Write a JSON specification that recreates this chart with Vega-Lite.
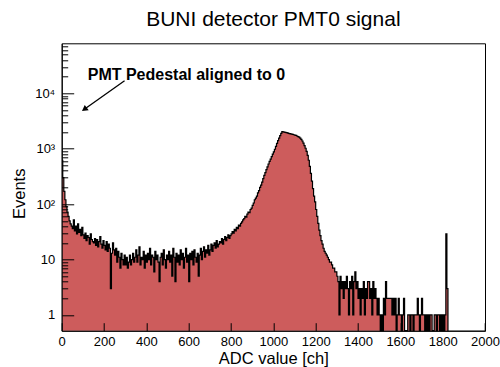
{
"$schema":"https://vega.github.io/schema/vega-lite/v6.json",
"width":423.3,"height":287.4,
"autosize":{"type":"none"},
"padding":{"left":61.7,"top":43.3,"right":15,"bottom":36.3},
"background":"white",
"config":{"font":"Liberation Sans","view":{"stroke":"black","strokeWidth":1}},
"title":{"text":"BUNI detector PMT0 signal","fontSize":21,"fontWeight":"normal","color":"black","anchor":"middle","frame":"group","baseline":"alphabetic","offset":-6,"font":"Liberation Sans"},
"datasets":{
"h":[
{"c":2.5,"n":620},{"c":7.5,"n":300},{"c":12.5,"n":170},{"c":17.5,"n":120},{"c":22.5,"n":90},{"c":27.5,"n":72},{"c":32.5,"n":60},{"c":37.5,"n":50},{"c":42.5,"n":44},{"c":47.5,"n":40},
{"c":52.5,"n":36},{"c":57.5,"n":52},{"c":62.5,"n":33},{"c":67.5,"n":40},{"c":72.5,"n":29},{"c":77.5,"n":44},{"c":82.5,"n":31},{"c":87.5,"n":35},{"c":92.5,"n":27},{"c":97.5,"n":38},
{"c":102.5,"n":28},{"c":107.5,"n":24},{"c":112.5,"n":30},{"c":117.5,"n":22},{"c":122.5,"n":27},{"c":127.5,"n":25},{"c":132.5,"n":19},{"c":137.5,"n":29},{"c":142.5,"n":23},{"c":147.5,"n":21},
{"c":152.5,"n":20},{"c":157.5,"n":24},{"c":162.5,"n":18},{"c":167.5,"n":23},{"c":172.5,"n":17},{"c":177.5,"n":21},{"c":182.5,"n":26},{"c":187.5,"n":19},{"c":192.5,"n":16},{"c":197.5,"n":22},
{"c":202.5,"n":18},{"c":207.5,"n":15},{"c":212.5,"n":21},{"c":217.5,"n":14},{"c":222.5,"n":19},{"c":227.5,"n":16},{"c":232.5,"n":3},{"c":237.5,"n":13},{"c":242.5,"n":20},{"c":247.5,"n":15},
{"c":252.5,"n":12},{"c":257.5,"n":16},{"c":262.5,"n":9},{"c":267.5,"n":14},{"c":272.5,"n":11},{"c":277.5,"n":7},{"c":282.5,"n":13},{"c":287.5,"n":10},{"c":292.5,"n":8},{"c":297.5,"n":12},
{"c":302.5,"n":8},{"c":307.5,"n":11},{"c":312.5,"n":7},{"c":317.5,"n":9},{"c":322.5,"n":12},{"c":327.5,"n":8},{"c":332.5,"n":10},{"c":337.5,"n":13},{"c":342.5,"n":9},{"c":347.5,"n":11},
{"c":352.5,"n":15},{"c":357.5,"n":9},{"c":362.5,"n":12},{"c":367.5,"n":17},{"c":372.5,"n":8},{"c":377.5,"n":11},{"c":382.5,"n":10},{"c":387.5,"n":14},{"c":392.5,"n":7},{"c":397.5,"n":12},
{"c":402.5,"n":9},{"c":407.5,"n":13},{"c":412.5,"n":10},{"c":417.5,"n":16},{"c":422.5,"n":8},{"c":427.5,"n":12},{"c":432.5,"n":11},{"c":437.5,"n":6},{"c":442.5,"n":14},{"c":447.5,"n":10},
{"c":452.5,"n":12},{"c":457.5,"n":9},{"c":462.5,"n":4},{"c":467.5,"n":11},{"c":472.5,"n":13},{"c":477.5,"n":8},{"c":482.5,"n":15},{"c":487.5,"n":10},{"c":492.5,"n":7},{"c":497.5,"n":12},
{"c":502.5,"n":10},{"c":507.5,"n":14},{"c":512.5,"n":9},{"c":517.5,"n":12},{"c":522.5,"n":5},{"c":527.5,"n":16},{"c":532.5,"n":11},{"c":537.5,"n":4},{"c":542.5,"n":13},{"c":547.5,"n":9},
{"c":552.5,"n":12},{"c":557.5,"n":8},{"c":562.5,"n":15},{"c":567.5,"n":10},{"c":572.5,"n":13},{"c":577.5,"n":7},{"c":582.5,"n":11},{"c":587.5,"n":16},{"c":592.5,"n":9},{"c":597.5,"n":12},
{"c":602.5,"n":4},{"c":607.5,"n":13},{"c":612.5,"n":10},{"c":617.5,"n":14},{"c":622.5,"n":8},{"c":627.5,"n":15},{"c":632.5,"n":11},{"c":637.5,"n":9},{"c":642.5,"n":13},{"c":647.5,"n":5},
{"c":652.5,"n":12},{"c":657.5,"n":16},{"c":662.5,"n":10},{"c":667.5,"n":14},{"c":672.5,"n":17},{"c":677.5,"n":11},{"c":682.5,"n":15},{"c":687.5,"n":13},{"c":692.5,"n":18},{"c":697.5,"n":12},
{"c":702.5,"n":15},{"c":707.5,"n":19},{"c":712.5,"n":14},{"c":717.5,"n":18},{"c":722.5,"n":20},{"c":727.5,"n":16},{"c":732.5,"n":22},{"c":737.5,"n":17},{"c":742.5,"n":19},{"c":747.5,"n":21},
{"c":752.5,"n":20},{"c":757.5,"n":24},{"c":762.5,"n":19},{"c":767.5,"n":23},{"c":772.5,"n":26},{"c":777.5,"n":22},{"c":782.5,"n":25},{"c":787.5,"n":28},{"c":792.5,"n":24},{"c":797.5,"n":27},
{"c":802.5,"n":29},{"c":807.5,"n":32},{"c":812.5,"n":30},{"c":817.5,"n":35},{"c":822.5,"n":33},{"c":827.5,"n":38},{"c":832.5,"n":36},{"c":837.5,"n":42},{"c":842.5,"n":40},{"c":847.5,"n":45},
{"c":852.5,"n":48},{"c":857.5,"n":52},{"c":862.5,"n":55},{"c":867.5,"n":60},{"c":872.5,"n":58},{"c":877.5,"n":66},{"c":882.5,"n":72},{"c":887.5,"n":70},{"c":892.5,"n":80},{"c":897.5,"n":85},
{"c":902.5,"n":95},{"c":907.5,"n":105},{"c":912.5,"n":120},{"c":917.5,"n":128},{"c":922.5,"n":140},{"c":927.5,"n":160},{"c":932.5,"n":175},{"c":937.5,"n":200},{"c":942.5,"n":220},{"c":947.5,"n":250},
{"c":952.5,"n":290},{"c":957.5,"n":330},{"c":962.5,"n":370},{"c":967.5,"n":420},{"c":972.5,"n":470},{"c":977.5,"n":530},{"c":982.5,"n":590},{"c":987.5,"n":650},{"c":992.5,"n":720},{"c":997.5,"n":800},
{"c":1002.5,"n":880},{"c":1007.5,"n":980},{"c":1012.5,"n":1100},{"c":1017.5,"n":1250},{"c":1022.5,"n":1400},{"c":1027.5,"n":1550},{"c":1032.5,"n":1720},{"c":1037.5,"n":1900},{"c":1042.5,"n":2030},{"c":1047.5,"n":2010},
{"c":1052.5,"n":2000},{"c":1057.5,"n":1980},{"c":1062.5,"n":1950},{"c":1067.5,"n":1930},{"c":1072.5,"n":1900},{"c":1077.5,"n":1880},{"c":1082.5,"n":1860},{"c":1087.5,"n":1840},{"c":1092.5,"n":1810},{"c":1097.5,"n":1790},
{"c":1102.5,"n":1760},{"c":1107.5,"n":1740},{"c":1112.5,"n":1700},{"c":1117.5,"n":1660},{"c":1122.5,"n":1620},{"c":1127.5,"n":1560},{"c":1132.5,"n":1480},{"c":1137.5,"n":1380},{"c":1142.5,"n":1260},{"c":1147.5,"n":1140},
{"c":1152.5,"n":1020},{"c":1157.5,"n":900},{"c":1162.5,"n":760},{"c":1167.5,"n":620},{"c":1172.5,"n":480},{"c":1177.5,"n":360},{"c":1182.5,"n":260},{"c":1187.5,"n":190},{"c":1192.5,"n":140},{"c":1197.5,"n":110},
{"c":1202.5,"n":80},{"c":1207.5,"n":60},{"c":1212.5,"n":45},{"c":1217.5,"n":34},{"c":1222.5,"n":27},{"c":1227.5,"n":22},{"c":1232.5,"n":19},{"c":1237.5,"n":16},{"c":1242.5,"n":14},{"c":1247.5,"n":13},
{"c":1252.5,"n":12},{"c":1257.5,"n":11},{"c":1262.5,"n":10},{"c":1267.5,"n":9},{"c":1272.5,"n":9},{"c":1277.5,"n":8},{"c":1282.5,"n":7},{"c":1287.5,"n":7},{"c":1292.5,"n":6},{"c":1297.5,"n":6},
{"c":1302.5,"n":5},{"c":1307.5,"n":4},{"c":1312.5,"n":1},{"c":1317.5,"n":5},{"c":1322.5,"n":3},{"c":1327.5,"n":4},{"c":1332.5,"n":2},{"c":1337.5,"n":4},{"c":1342.5,"n":3},{"c":1347.5,"n":5},
{"c":1352.5,"n":3},{"c":1357.5,"n":1},{"c":1362.5,"n":4},{"c":1367.5,"n":3},{"c":1372.5,"n":5},{"c":1377.5,"n":1},{"c":1382.5,"n":4},{"c":1387.5,"n":6},{"c":1392.5,"n":3},{"c":1397.5,"n":4},
{"c":1402.5,"n":2},{"c":1407.5,"n":3},{"c":1412.5,"n":1},{"c":1417.5,"n":3},{"c":1422.5,"n":2},{"c":1427.5,"n":4},{"c":1432.5,"n":1},{"c":1437.5,"n":3},{"c":1442.5,"n":2},{"c":1447.5,"n":4},
{"c":1452.5,"n":4},{"c":1457.5,"n":2},{"c":1462.5,"n":3},{"c":1467.5,"n":1},{"c":1472.5,"n":4},{"c":1477.5,"n":2},{"c":1482.5,"n":3},{"c":1487.5,"n":2},{"c":1492.5,"n":1},{"c":1497.5,"n":2},
{"c":1502.5,"n":1},{"c":1507.5,"n":0},{"c":1512.5,"n":1},{"c":1517.5,"n":0},{"c":1522.5,"n":2},{"c":1527.5,"n":1},{"c":1532.5,"n":4},{"c":1537.5,"n":2},{"c":1542.5,"n":2},{"c":1547.5,"n":2},
{"c":1552.5,"n":2},{"c":1557.5,"n":2},{"c":1562.5,"n":1},{"c":1567.5,"n":2},{"c":1572.5,"n":1},{"c":1577.5,"n":2},{"c":1582.5,"n":0},{"c":1587.5,"n":1},{"c":1592.5,"n":2},{"c":1597.5,"n":1},
{"c":1602.5,"n":1},{"c":1607.5,"n":0},{"c":1612.5,"n":1},{"c":1617.5,"n":2},{"c":1622.5,"n":0},{"c":1627.5,"n":0},{"c":1632.5,"n":0},{"c":1637.5,"n":1},{"c":1642.5,"n":1},{"c":1647.5,"n":0},
{"c":1652.5,"n":1},{"c":1657.5,"n":1},{"c":1662.5,"n":0},{"c":1667.5,"n":1},{"c":1672.5,"n":1},{"c":1677.5,"n":1},{"c":1682.5,"n":2},{"c":1687.5,"n":1},{"c":1692.5,"n":0},{"c":1697.5,"n":1},
{"c":1702.5,"n":2},{"c":1707.5,"n":1},{"c":1712.5,"n":1},{"c":1717.5,"n":0},{"c":1722.5,"n":1},{"c":1727.5,"n":0},{"c":1732.5,"n":1},{"c":1737.5,"n":0},{"c":1742.5,"n":1},{"c":1747.5,"n":1},
{"c":1752.5,"n":0},{"c":1757.5,"n":0},{"c":1762.5,"n":1},{"c":1767.5,"n":1},{"c":1772.5,"n":0},{"c":1777.5,"n":1},{"c":1782.5,"n":1},{"c":1787.5,"n":0},{"c":1792.5,"n":1},{"c":1797.5,"n":0},
{"c":1802.5,"n":1},{"c":1807.5,"n":0},{"c":1812.5,"n":1},{"c":1817.5,"n":29},{"c":1822.5,"n":3},{"c":1827.5,"n":0}
],
"ann":[{"x1":297,"y1":16900,"hx":107,"hy":5150,"tx":123,"ty":17270,"label":"PMT Pedestal aligned to 0"}]
},
"layer":[
{"data":{"name":"h"},
 "mark":{"type":"area","interpolate":"step","color":"#cd5c5c","invalid":"show"},
 "encoding":{
  "x":{"field":"c","type":"quantitative","scale":{"domain":[0,2000],"nice":false,"zero":false},
   "axis":{"values":[0,50,100,150,200,250,300,350,400,450,500,550,600,650,700,750,800,850,900,950,1000,1050,1100,1150,1200,1250,1300,1350,1400,1450,1500,1550,1600,1650,1700,1750,1800,1850,1900,1950,2000],
    "labelExpr":"datum.value % 200 == 0 ? '' + datum.value : ''",
    "tickSize":{"condition":{"test":"datum.value % 200 == 0","value":-8},"value":-4},
    "labelPadding":13,"labelFlush":false,"labelOverlap":false,"grid":false,"domainColor":"black","tickColor":"black","labelColor":"black","labelFontSize":13,"labelFont":"Liberation Sans",
    "title":"ADC value [ch]","titleFontSize":16.5,"titleFontWeight":"normal","titleFont":"Liberation Sans","titleColor":"black","titleY":33,"titleBaseline":"alphabetic","titleAnchor":"middle","zindex":1}},
  "y":{"field":"n","type":"quantitative","scale":{"type":"log","domain":[0.52,80000],"clamp":true,"nice":false},
   "axis":{"values":[1,2,3,4,5,6,7,8,9,10,20,30,40,50,60,70,80,90,100,200,300,400,500,600,700,800,900,1000,2000,3000,4000,5000,6000,7000,8000,9000,10000,20000,30000,40000,50000,60000,70000],
    "labelExpr":"datum.value == 1 ? '1' : datum.value == 10 ? '10' : datum.value == 100 ? '10²' : datum.value == 1000 ? '10³' : datum.value == 10000 ? '10⁴' : ''",
    "tickSize":{"condition":{"test":"indexof([1,10,100,1000,10000], datum.value) >= 0","value":-12},"value":-6},
    "labelPadding":19,"labelOverlap":false,"grid":false,"domainColor":"black","tickColor":"black","labelColor":"black","labelFontSize":13,"labelFont":"Liberation Sans",
    "title":"Events","titleFontSize":16.5,"titleFontWeight":"normal","titleFont":"Liberation Sans","titleColor":"black","titleX":-37,"titleY":150,"titleAngle":270,"titleAlign":"center","titleBaseline":"alphabetic","zindex":1}},
  "y2":{"value":"height"}}},
{"data":{"name":"h"},
 "mark":{"type":"line","interpolate":"step","color":"black","strokeWidth":1.2,"invalid":"show"},
 "encoding":{"x":{"field":"c","type":"quantitative"},"y":{"field":"n","type":"quantitative"}}},
{"data":{"name":"ann"},
 "mark":{"type":"rule","color":"black","strokeWidth":1.3},
 "encoding":{"x":{"field":"x1","type":"quantitative"},"y":{"field":"y1","type":"quantitative"},"x2":{"field":"hx"},"y2":{"field":"hy"}}},
{"data":{"name":"ann"},
 "mark":{"type":"point","shape":"triangle-up","filled":true,"color":"black","size":45,"angle":234,"opacity":1},
 "encoding":{"x":{"field":"hx","type":"quantitative"},"y":{"field":"hy","type":"quantitative"}}},
{"data":{"name":"ann"},
 "mark":{"type":"text","align":"left","baseline":"alphabetic","fontSize":16,"fontWeight":"bold","color":"black","font":"Liberation Sans"},
 "encoding":{"x":{"field":"tx","type":"quantitative"},"y":{"field":"ty","type":"quantitative"},"text":{"field":"label"}}}
]
}
